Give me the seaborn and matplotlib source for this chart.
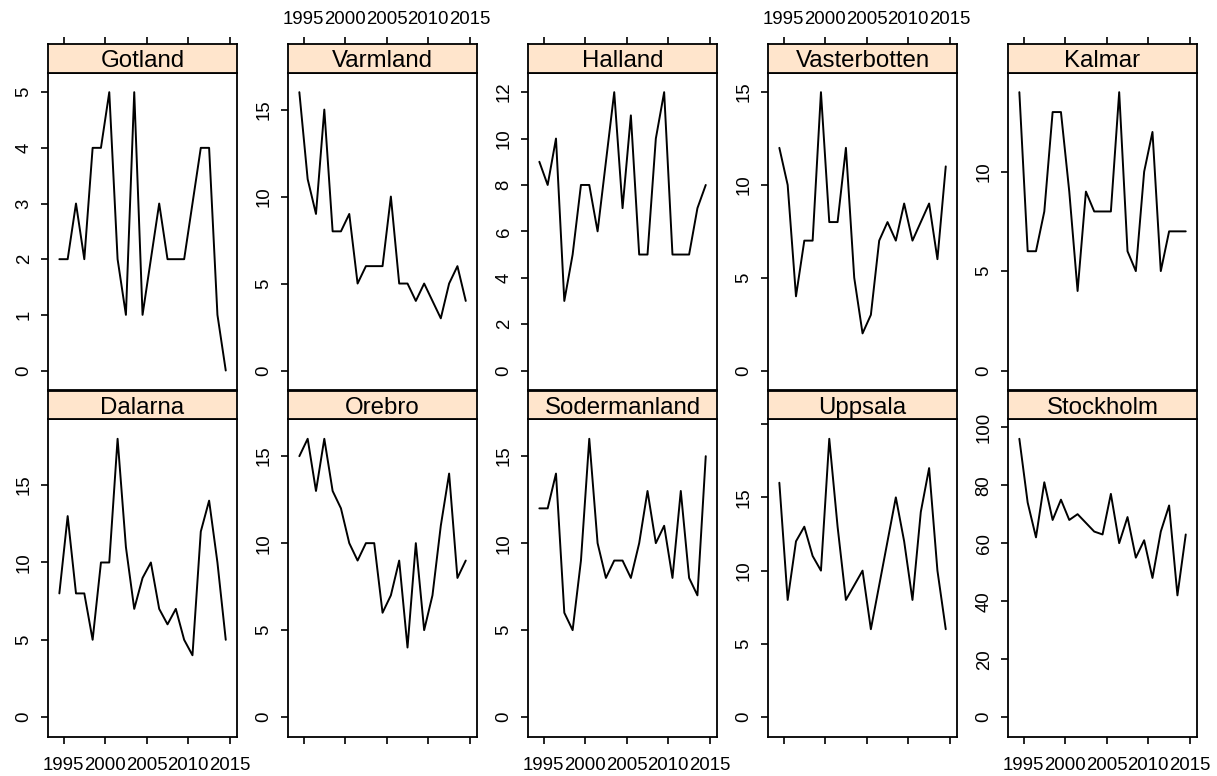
"""Yearly counts per county, lattice-style small multiples"""

import numpy as np
import pandas as pd
import matplotlib.pyplot as plt
import seaborn as sns

years = list(range(1994, 2015))
counties = ['Gotland', 'Varmland', 'Halland', 'Vasterbotten', 'Kalmar',
            'Dalarna', 'Orebro', 'Sodermanland', 'Uppsala', 'Stockholm']

gotland = [2, 2, 3, 2, 4, 4, 5, 2, 1, 5, 1, 2, 3, 2, 2, 2, 3, 4, 4, 1, 0]
varmland = [16, 11, 9, 15, 8, 8, 9, 5, 6, 6, 6, 10, 5, 5, 4, 5, 4, 3, 5, 6, 4]
halland = [9, 8, 10, 3, 5, 8, 8, 6, 9, 12, 7, 11, 5, 5, 10, 12, 5, 5, 5, 7, 8]
vasterbotten = [12, 10, 4, 7, 7, 15, 8, 8, 12, 5, 2, 3, 7, 8, 7, 9, 7, 8, 9, 6, 11]
kalmar = [14, 6, 6, 8, 13, 13, 9, 4, 9, 8, 8, 8, 14, 6, 5, 10, 12, 5, 7, 7, 7]
dalarna = [8, 13, 8, 8, 5, 10, 10, 18, 11, 7, 9, 10, 7, 6, 7, 5, 4, 12, 14, 10, 5]
orebro = [15, 16, 13, 16, 13, 12, 10, 9, 10, 10, 6, 7, 9, 4, 10, 5, 7, 11, 14, 8, 9]
sodermanland = [12, 12, 14, 6, 5, 9, 16, 10, 8, 9, 9, 8, 10, 13, 10, 11, 8, 13, 8, 7, 15]
uppsala = [16, 8, 12, 13, 11, 10, 19, 13, 8, 9, 10, 6, 9, 12, 15, 12, 8, 14, 17, 10, 6]
stockholm = [96, 74, 62, 81, 68, 75, 68, 70, 67, 64, 63, 77, 60, 69, 55, 61, 48, 64, 73, 42, 63]

series = [gotland, varmland, halland, vasterbotten, kalmar,
          dalarna, orebro, sodermanland, uppsala, stockholm]
xtick_years = [1995, 2000, 2005, 2010, 2015]
ystep = [1, 5, 2, 5, 5, 5, 5, 5, 5, 20]

df = pd.DataFrame({
    'year': years * len(counties),
    'county': np.repeat(counties, len(years)),
    'count': np.concatenate(series),
})
df['x'] = df['year'] + 0.5  # plotted at mid-year

sns.set_style('ticks', {'text.color': 'black', 'xtick.color': 'black',
                        'ytick.color': 'black', 'axes.edgecolor': 'black'})
plt.rcParams['font.family'] = ['Liberation Sans', 'DejaVu Sans']

g = sns.relplot(data=df, x='x', y='count', col='county', col_wrap=5,
                col_order=counties, kind='line', color='black', linewidth=1.4,
                errorbar=None, height=3.2, aspect=0.6,
                facet_kws={'sharex': True, 'sharey': False})
g.set_titles('')
g.set_axis_labels('', '')
fig = g.figure
fig.set_size_inches(12.17, 7.76)

W, H = 1217, 776
pw, ph, sh = 189.7, 317.3, 28.7
col_x = [47.7 + 240 * c for c in range(5)]
row_top = [72.7, 419.3]

xlo, xhi = df['x'].min(), df['x'].max()
xpad = 0.07 * (xhi - xlo)
tick_kw = dict(length=4.8, width=1.2, labelsize=13.4, color='black',
               labelcolor='black', direction='out')

for i, ax in enumerate(g.axes.flat):
    r, c = divmod(i, 5)
    name = counties[i]
    left = col_x[c] / W
    ax.set_position([left, 1 - (row_top[r] + ph) / H, pw / W, ph / H])

    ymax = max(series[i])
    lo, hi = -0.07 * ymax, 1.07 * ymax
    ax.set_ylim(lo, hi)
    ticks = np.arange(0, hi + 1e-9, ystep[i])
    labels = [str(int(t)) if (hi - t) > 0.02 * (hi - lo) else '' for t in ticks]
    ax.set_yticks(ticks, labels, rotation=90, va='center')

    ax.set_xlim(xlo - xpad, xhi + xpad)
    ax.set_xticks(xtick_years)
    ax.tick_params(**tick_kw)
    ax.tick_params(axis='y', left=True, labelleft=True, pad=6)
    if r == 0:
        ax.tick_params(axis='x', bottom=False, labelbottom=False)
    else:
        ax.tick_params(axis='x', bottom=True, labelbottom=(c % 2 == 0), pad=10)
    for sp in ax.spines.values():
        sp.set_visible(True)
        sp.set_color('black')
        sp.set_linewidth(1.3)

    # strip above each panel
    strip = fig.add_axes([left, 1 - row_top[r] / H, pw / W, sh / H],
                         facecolor='#FFE5CC')
    strip.set_xlim(ax.get_xlim())
    strip.set_yticks([])
    strip.text(0.5, 0.2, name, ha='center', va='baseline', fontsize=17.3,
               color='black', transform=strip.transAxes)
    for sp in strip.spines.values():
        sp.set_visible(True)
        sp.set_color('black')
        sp.set_linewidth(1.3)
    if r == 0:
        strip.set_xticks(xtick_years)
        strip.tick_params(**tick_kw)
        strip.tick_params(axis='x', top=True, bottom=False,
                          labeltop=(c % 2 == 1), labelbottom=False, pad=7)
    else:
        strip.set_xticks([])

fig.savefig('out.png', dpi=100)
